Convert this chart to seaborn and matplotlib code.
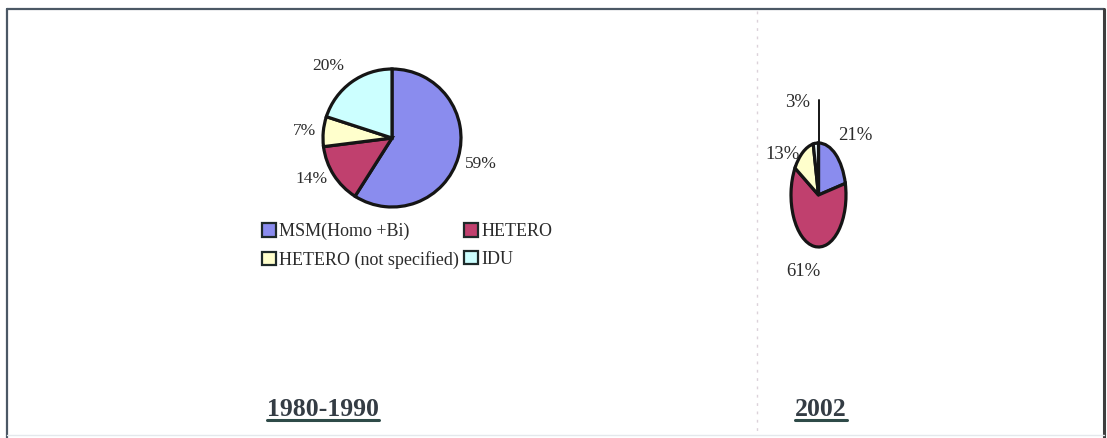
import matplotlib
matplotlib.use("Agg")
import matplotlib.pyplot as plt
from matplotlib.patches import Patch
from matplotlib.lines import Line2D
import seaborn as sns

# ---- data -------------------------------------------------------------
groups = ["MSM(Homo +Bi)", "HETERO", "HETERO (not specified)", "IDU"]
share_1980_1990 = [59, 14, 7, 20]
share_2002 = [21, 61, 13, 3]
period_labels = ["1980-1990", "2002"]

# ---- style ------------------------------------------------------------
sns.set_theme(style="white")
plt.rcParams["font.family"] = ["Liberation Serif", "DejaVu Serif"]
palette = ["#8a8cee", "#c0406e", "#ffffcc", "#ccffff"]
text_col = "#2b2b2b"

W, H = 1107, 438
fig = plt.figure(figsize=(W / 100, H / 100), dpi=100)
fig.patch.set_facecolor("white")


def px_axes(cx, cy, hw, hh):
    """Axes centred on pixel (cx, cy) with half width hw and half height hh."""
    return fig.add_axes([(cx - hw) / W, 1 - (cy + hh) / H, 2 * hw / W, 2 * hh / H])


# ---- frame and separator -----------------------------------------------
frame_col = "#4b5865"
fig.add_artist(Line2D([7 / W, 7 / W], [1 - 9 / H, 0], color=frame_col, lw=1.6))
fig.add_artist(Line2D([7 / W, 1104 / W], [1 - 9 / H, 1 - 9 / H], color=frame_col, lw=1.6))
fig.add_artist(Line2D([1104 / W, 1104 / W], [1 - 9 / H, 0], color="#3e3e3e", lw=2.2))
fig.add_artist(Line2D([7 / W, 1104 / W], [1 - 435 / H, 1 - 435 / H], color="#e4e8ec", lw=1.0))
fig.add_artist(Line2D([757 / W, 757 / W], [1 - 11 / H, 1 - 436 / H],
                      color="#dcd2da", lw=1.0, ls=(0, (2, 4))))

edge = dict(edgecolor="#151515", linewidth=2.3)

# ---- 1980-1990 pie -----------------------------------------------------
ax1 = px_axes(392, 138, 69, 69)
wedges1, texts1 = ax1.pie(
    share_1980_1990,
    colors=palette,
    startangle=90,
    counterclock=False,
    labels=[f"{v}%" for v in share_1980_1990],
    labeldistance=1.1,
    wedgeprops=edge,
    textprops=dict(fontsize=12.5, color=text_col),
)
ax1.set_xlim(-1, 1)
ax1.set_ylim(-1, 1)
for t in texts1:
    t.set_clip_on(False)
texts1[0].set_position((texts1[0].get_position()[0], -0.37))
texts1[3].set_position((texts1[3].get_position()[0] - 0.05, 1.05))

# ---- 2002 pie (stretched vertically) -------------------------------------
ax2 = px_axes(818.5, 195, 27.5, 52)
wedges2, texts2 = ax2.pie(
    share_2002,
    colors=palette[:3] + ["#eefcfc"],
    startangle=90,
    counterclock=False,
    labels=[f"{v}%" for v in share_2002],
    wedgeprops=edge,
    textprops=dict(fontsize=13.5, color=text_col, ha="center", va="center"),
)
ax2.set_aspect("auto")
ax2.set_xlim(-1, 1)
ax2.set_ylim(-1, 1)
label_pos_2 = [(1.33, 1.15), (-0.56, -1.48), (-1.29, 0.77), (-0.75, 1.77)]
for t, p in zip(texts2, label_pos_2):
    t.set_position(p)
    t.set_horizontalalignment("center")
    t.set_clip_on(False)
# leader line for the thin IDU slice
ax2.plot([0, 0], [1.0, 1.83], color="#151515", lw=1.4, clip_on=False)

# ---- legend ------------------------------------------------------------
handles = [Patch(facecolor=c, edgecolor="#1e2a2a", linewidth=1.6) for c in palette]
order = [0, 2, 1, 3]
fig.legend(
    [handles[i] for i in order],
    [groups[i] for i in order],
    ncol=2,
    loc="upper left",
    bbox_to_anchor=(253 / W, 1 - 214 / H),
    frameon=False,
    fontsize=13,
    handlelength=0.75,
    handleheight=0.75,
    handletextpad=0.2,
    columnspacing=0.3,
    labelspacing=0.6,
    borderpad=0,
    labelcolor=text_col,
)

# ---- period titles -------------------------------------------------------
title_col = "#343c44"
titles = []
for label, x in zip(period_labels, [323, 821]):
    titles.append(fig.text(x / W, 1 - 409 / H, label, ha="center", va="center",
                           fontsize=18.5, fontweight="bold", color=title_col))

fig.canvas.draw()
renderer = fig.canvas.get_renderer()
for t in titles:
    bb = t.get_window_extent(renderer)
    y = (bb.y0 + 1) / H
    fig.add_artist(Line2D([bb.x0 / W, bb.x1 / W], [y, y], color="#2e4a48", lw=2.2))

fig.savefig("out.png", dpi=100, facecolor="white")
